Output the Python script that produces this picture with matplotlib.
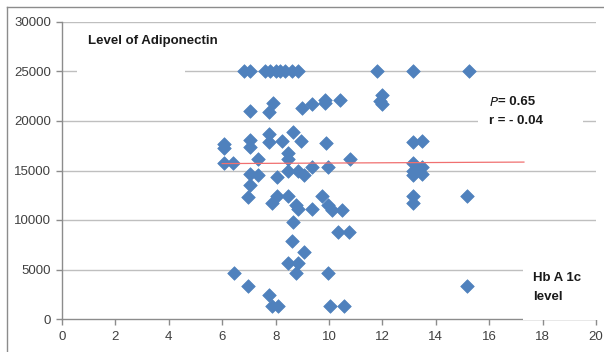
#!/usr/bin/env python

import matplotlib
matplotlib.use('Agg')
import matplotlib.pyplot as plt
from matplotlib.patches import Rectangle
from matplotlib.lines import Line2D

# HbA1c level (x) vs adiponectin level (y)
hba1c = [
    # 25000 row
    6.8, 7.05, 7.6, 7.8, 8.0, 8.15, 8.35, 8.6, 8.85, 11.8, 13.15, 15.25,
    # 21000 - 23000
    7.05, 7.75, 7.9, 9.0, 9.35, 9.85, 9.85, 10.4, 12.0, 11.9, 12.0,
    # 17000 - 19000
    6.05, 6.05, 7.05, 7.05, 7.75, 7.75, 8.25, 8.65, 8.95, 9.9, 13.15, 13.5,
    # 15000 - 17000
    8.45, 8.45, 6.05, 6.4, 7.35, 9.35, 9.95, 10.8, 13.15, 13.5, 13.15, 8.45,
    # 11000 - 15000
    7.05, 7.35, 8.05, 8.85, 9.05, 13.15, 13.5,
    7.05, 6.95, 8.05, 7.85, 8.45, 8.75, 8.85, 9.35, 9.75, 9.95, 10.1, 10.5,
    13.15, 13.15, 15.15,
    # below 10000
    8.65, 10.35, 10.75, 8.6, 9.05, 8.45, 8.85, 6.45, 8.75, 9.95, 6.95, 7.75,
    7.85, 8.1, 10.05, 10.55, 15.15,
]
adiponectin = [
    25000, 25000, 25000, 25000, 25000, 25000, 25000, 25000, 25000, 25000, 25000, 25000,
    21000, 20900, 21800, 21300, 21700, 22100, 21800, 22100, 22600, 22000, 21700,
    17700, 17300, 18100, 17400, 18700, 17900, 18000, 18900, 18000, 17800, 17900, 18000,
    16800, 16200, 15800, 15800, 16200, 15400, 15400, 16200, 15800, 15400, 15000, 15000,
    14600, 14500, 14300, 15000, 14500, 14500, 14600,
    13500, 12300, 12400, 11700, 12400, 11500, 11100, 11100, 12400, 11500, 11000, 11000,
    12400, 11700, 12400,
    9800, 8800, 8800, 7900, 6800, 5700, 5700, 4600, 4600, 4600, 3300, 2400,
    1300, 1300, 1300, 1300, 3300,
]

# linear trendline end points
trend_x = [6.0, 17.3]
trend_y = [15700, 15850]

x_ticks = [0, 2, 4, 6, 8, 10, 12, 14, 16, 18, 20]
y_ticks = [0, 5000, 10000, 15000, 20000, 25000, 30000]

plt.rcParams['font.family'] = ['Liberation Sans', 'DejaVu Sans']

fig = plt.figure(figsize=(6.04, 3.52), dpi=100, facecolor='white')
ax = fig.add_axes([62 / 604, 1 - 319 / 352, 534 / 604, 297 / 352])

# outer chart frame (only top and left edges show)
fig.add_artist(Line2D([7 / 604, 7 / 604], [0, 1 - 7 / 352], color='#8c8c8c', lw=1.0))
fig.add_artist(Line2D([7 / 604, 1], [1 - 7 / 352, 1 - 7 / 352], color='#8c8c8c', lw=1.0))

ax.set_xlim(0, 20)
ax.set_ylim(0, 30000)
ax.set_xticks(x_ticks)
ax.set_yticks(y_ticks)

for yv in y_ticks[1:]:
    ax.axhline(yv, color='#bfbfbf', lw=1.0, zorder=1)

for side in ['top', 'right']:
    ax.spines[side].set_visible(False)
for side in ['left', 'bottom']:
    ax.spines[side].set_color('#8c8c8c')
    ax.spines[side].set_linewidth(1.0)
ax.tick_params(axis='both', colors='#8c8c8c', labelcolor='#404040',
               labelsize=9.5, length=4, width=1.0)
ax.tick_params(axis='x', pad=5)
ax.tick_params(axis='y', pad=4)

# white text boxes hiding the gridlines behind them
ax.add_patch(Rectangle((0.56, 24000), 4.04, 5000, facecolor='white',
                       edgecolor='none', zorder=2))
ax.add_patch(Rectangle((15.58, 19000), 3.93, 4500, facecolor='white',
                       edgecolor='none', zorder=2))
ax.add_patch(Rectangle((17.27, -70), 3.2, 7000, facecolor='white',
                       edgecolor='none', zorder=3, clip_on=False))

ax.scatter(hba1c, adiponectin, marker='D', s=48, color='#4f81bd',
           edgecolors='#4f81bd', linewidths=0.5, zorder=4)
ax.plot(trend_x, trend_y, color='#f07070', lw=0.9, zorder=5)

ax.text(0.97, 28100, 'Level of Adiponectin', fontsize=9.5, fontweight='bold',
        color='#1a1a1a', va='center', ha='left', zorder=6)
ax.text(16.0, 21900, '$P$', fontsize=9.5, fontweight='bold', color='#1a1a1a',
        va='center', ha='left', zorder=6)
ax.text(16.32, 21900, '= 0.65', fontsize=9.5, fontweight='bold',
        color='#1a1a1a', va='center', ha='left', zorder=6)
ax.text(16.0, 20000, 'r = - 0.04', fontsize=9.5, fontweight='bold',
        color='#1a1a1a', va='center', ha='left', zorder=6)
ax.text(17.65, 4100, 'Hb A 1c', fontsize=9.5, fontweight='bold',
        color='#1a1a1a', va='center', ha='left', zorder=6)
ax.text(17.65, 2200, 'level', fontsize=9.5, fontweight='bold',
        color='#1a1a1a', va='center', ha='left', zorder=6)

fig.savefig('out.png', dpi=100, facecolor='white')
